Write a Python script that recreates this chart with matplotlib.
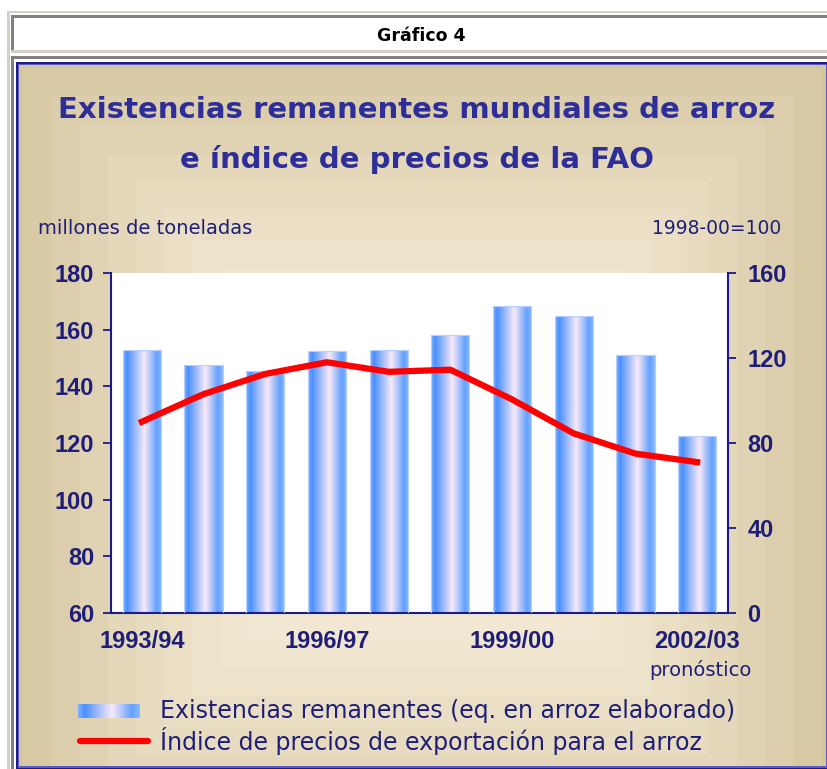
import numpy as np
import matplotlib.pyplot as plt
from matplotlib.patches import Rectangle
from matplotlib.colors import LinearSegmentedColormap

# data
years = ['1993/94', '1994/95', '1995/96', '1996/97', '1997/98',
         '1998/99', '1999/00', '2000/01', '2001/02', '2002/03']
stocks = [153, 147.5, 145.5, 152.5, 153, 158, 168.5, 165, 151, 122.5]
price_index = [90, 103, 112.5, 118, 113.5, 114.5, 100.5, 84.5, 75, 71]
shown_years = ['1993/94', '1996/97', '1999/00', '2002/03']
left_ticks = [60, 80, 100, 120, 140, 160, 180]
right_ticks = [0, 40, 80, 120, 160]

W, H = 827, 769
navy = '#1c1c86'
text_navy = '#1e1e78'
title_col = '#2e2e98'

fig = plt.figure(figsize=(W / 100, H / 100), dpi=100)
fig.patch.set_facecolor('white')

# background layer in pixel coordinates
bg = fig.add_axes([0, 0, 1, 1])
bg.set_xlim(0, W)
bg.set_ylim(H, 0)
bg.axis('off')

def box(x0, y0, x1, y1, col):
    bg.add_patch(Rectangle((x0, y0), x1 - x0, y1 - y0, facecolor=col,
                           edgecolor='none', zorder=1))

# page frames
box(7, 11, W, 13, '#d4d0c8')
box(7, 11, 10, H, '#d4d0c8')
box(11, 15, W, 18, '#808080')
box(11, 15, 14, 52, '#808080')
box(11, 50, W, 53, '#d4d0c8')
box(11, 56, W, 59, '#808080')
box(11, 56, 14, H, '#808080')
box(16, 62, W, H, navy)
box(18, 64, W, H - 1, '#5a5ac8')

# tan panel with a stepped rectangular gradient
gx = np.linspace(-1, 1, 200)
gy = np.linspace(-1, 1, 180)
GX, GY = np.meshgrid(gx, gy)
d = np.maximum(np.abs(GX), np.abs((GY - 0.15) / 1.15))
d = np.floor(d * 14) / 14
t = np.clip(d, 0, 1) ** 1.8
light = np.array([248, 238, 220]) / 255
dark = np.array([212, 197, 158]) / 255
img = light[None, None, :] * (1 - t[..., None]) + dark[None, None, :] * t[..., None]
bg.imshow(img, extent=(19, W - 1, H - 3, 65), aspect='auto',
          interpolation='nearest', zorder=2)

bg.text(421, 36, 'Gráfico 4', ha='center', va='center', fontsize=12.5,
        fontweight='bold', color='black', zorder=3)

bg.text(417, 110, 'Existencias remanentes mundiales de arroz', ha='center',
        va='center', fontsize=21, fontweight='bold', color=title_col, zorder=3)
bg.text(417, 160, 'e índice de precios de la FAO', ha='center',
        va='center', fontsize=21, fontweight='bold', color=title_col, zorder=3)

bg.text(38, 228, 'millones de toneladas', ha='left', va='center',
        fontsize=14, color=text_navy, zorder=3)
bg.text(781, 228, '1998-00=100', ha='right', va='center',
        fontsize=13.5, color=text_navy, zorder=3)
bg.text(752, 670, 'pronóstico', ha='right', va='center',
        fontsize=14, color=text_navy, zorder=3)

# bar gradient colormap
bar_cmap = LinearSegmentedColormap.from_list(
    'bars', [(0, '#7fb2ff'), (0.1, '#4a90ff'), (0.55, '#f9e9f7'),
             (0.88, '#62a0ff'), (1, '#8cbaff')])
grad = np.linspace(0, 1, 64)[None, :]

# legend
bg.imshow(grad, extent=(78, 140, 718, 704),
          cmap=bar_cmap, aspect='auto', zorder=3)
bg.plot([80, 148], [741, 741], color='red', lw=4.5, solid_capstyle='round',
        zorder=3)
bg.text(160, 711, 'Existencias remanentes (eq. en arroz elaborado)',
        ha='left', va='center', fontsize=17, color=text_navy, zorder=3)
bg.text(160, 741, 'Índice de precios de exportación para el arroz',
        ha='left', va='center', fontsize=17, color=text_navy, zorder=3)

# main chart
ax = fig.add_axes([111 / W, 1 - 613 / H, (728 - 111) / W, (613 - 273) / H])
ax.set_facecolor('white')
x = np.arange(len(years))
bars = ax.bar(x, stocks, width=0.62, facecolor='none', edgecolor='#b5d0ff',
              lw=0.8, zorder=3)
for b in bars:
    im = ax.imshow(grad, extent=(b.get_x(), b.get_x() + b.get_width(),
                                 left_ticks[0], b.get_height()),
                   cmap=bar_cmap, aspect='auto', zorder=2)
    im.set_clip_path(b)
ax.set_xlim(-0.5, len(years) - 0.5)
ax.set_ylim(left_ticks[0], left_ticks[-1])
ax.set_yticks(left_ticks)
ax.set_xticks([years.index(y) for y in shown_years])
ax.set_xticklabels(shown_years)

tick_font = dict(family='Liberation Sans', weight='bold', size=17)
for lab in ax.get_yticklabels() + ax.get_xticklabels():
    lab.set_fontproperties(tick_font)
    lab.set_color(text_navy)
ax.tick_params(axis='y', direction='out', length=6, width=1.3, color=navy, pad=6)
ax.tick_params(axis='x', length=0, pad=12)
for s in ['top', 'right']:
    ax.spines[s].set_visible(False)
for s in ['left', 'bottom']:
    ax.spines[s].set_color(navy)
    ax.spines[s].set_linewidth(1.5)

ax2 = ax.twinx()
ax2.plot(x, price_index, color='red', lw=4.5, solid_joinstyle='round', zorder=4)
ax2.set_ylim(right_ticks[0], right_ticks[-1])
ax2.set_yticks(right_ticks)
for lab in ax2.get_yticklabels():
    lab.set_fontproperties(tick_font)
    lab.set_color(text_navy)
ax2.tick_params(axis='y', direction='out', length=6, width=1.3, color=navy, pad=8)
for s in ['top', 'left', 'bottom']:
    ax2.spines[s].set_visible(False)
ax2.spines['right'].set_color(navy)
ax2.spines['right'].set_linewidth(1.5)

fig.savefig('out.png', dpi=100)
